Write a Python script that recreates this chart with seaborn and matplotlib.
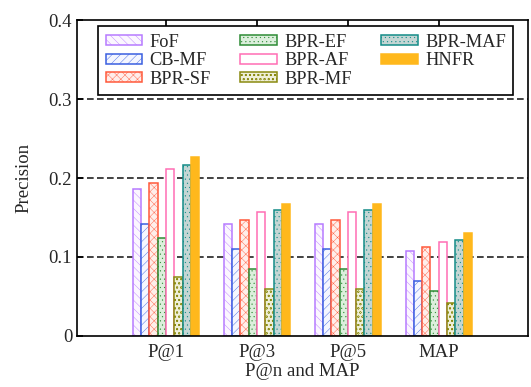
"""Precision bar chart: P@n and MAP for eight recommenders."""

import matplotlib

matplotlib.use("Agg")
import matplotlib.pyplot as plt
import pandas as pd
import seaborn as sns

# Data
metrics = ["P@1", "P@3", "P@5", "MAP"]
methods = ["FoF", "CB-MF", "BPR-SF", "BPR-EF", "BPR-AF", "BPR-MF", "BPR-MAF", "HNFR"]
fof = [0.186, 0.142, 0.142, 0.107]
cb_mf = [0.142, 0.110, 0.110, 0.070]
bpr_sf = [0.194, 0.147, 0.147, 0.112]
bpr_ef = [0.124, 0.085, 0.085, 0.057]
bpr_af = [0.211, 0.157, 0.157, 0.119]
bpr_mf = [0.075, 0.060, 0.060, 0.042]
bpr_maf = [0.216, 0.159, 0.159, 0.122]
hnfr = [0.227, 0.167, 0.167, 0.130]
series = [fof, cb_mf, bpr_sf, bpr_ef, bpr_af, bpr_mf, bpr_maf, hnfr]

# edge colour, face colour, hatch for each method
styles = {
    "FoF": ("#b77bff", "#fbf6ff", "\\\\\\\\"),
    "CB-MF": ("#3a5fe0", "#f4f6ff", "////"),
    "BPR-SF": ("#ff5a3c", "#ffeeea", "xxxx"),
    "BPR-EF": ("#2e8b35", "#dcefdc", "...."),
    "BPR-AF": ("#ff6eb4", "#ffffff", ""),
    "BPR-MF": ("#8a8a10", "#efefd8", "oooo"),
    "BPR-MAF": ("#138c88", "#c4d6d4", "...."),
    "HNFR": ("#ffb81c", "#ffb81c", ""),
}

rows = []
for name, vals in zip(methods, series):
    for m, v in zip(metrics, vals):
        rows.append({"metric": m, "method": name, "value": v})
df = pd.DataFrame(rows)

sns.set_theme(style="ticks")
plt.rcParams["font.family"] = ["Liberation Serif", "DejaVu Serif"]
plt.rcParams["hatch.linewidth"] = 0.3

fig = plt.figure(figsize=(5.31, 3.87), dpi=100)
ax = fig.add_axes([0.145, 0.132, 0.849, 0.816])

sns.barplot(
    data=df, x="metric", y="value", hue="method", hue_order=methods,
    width=0.73, dodge=True, ax=ax, legend=False, saturation=1,
)

handles = []
for name, container in zip(methods, ax.containers):
    edge, face, hatch = styles[name]
    for bar in container:
        bar.set_facecolor(face)
        bar.set_edgecolor(edge)
        bar.set_hatch(hatch)
        bar.set_linewidth(1.1)
    handles.append(container[0])

ax.set_ylim(0, 0.4)
ax.set_xlim(-0.98, 3.98)
ax.set_yticks([0, 0.1, 0.2, 0.3, 0.4])
ax.set_yticklabels(["0", "0.1", "0.2", "0.3", "0.4"])
for y in [0.1, 0.2, 0.3]:
    ax.axhline(y, color="#222222", linestyle=(0, (4, 2)), linewidth=1.2, zorder=0)

ax.tick_params(axis="both", labelsize=13.5, direction="in", length=4, color="black",
               top=True, right=False)
ax.tick_params(axis="x", length=4, pad=6)
for spine in ax.spines.values():
    spine.set_visible(True)
    spine.set_color("black")
    spine.set_linewidth(1.2)

ax.set_xlabel("P@n and MAP", fontsize=13.5, labelpad=1)
ax.set_ylabel("Precision", fontsize=13.5, labelpad=12)

leg = ax.legend(
    handles, methods, ncol=3, loc="upper left", bbox_to_anchor=(0.047, 0.98),
    borderaxespad=0, fontsize=13.2, frameon=True, fancybox=False, edgecolor="black",
    handlelength=2.0, handleheight=0.45, handletextpad=0.4, columnspacing=1.6,
    labelspacing=0.08, borderpad=0.4,
)
leg.get_frame().set_linewidth(1.2)
leg.get_frame().set_alpha(1)

fig.savefig("out.png", dpi=100)
